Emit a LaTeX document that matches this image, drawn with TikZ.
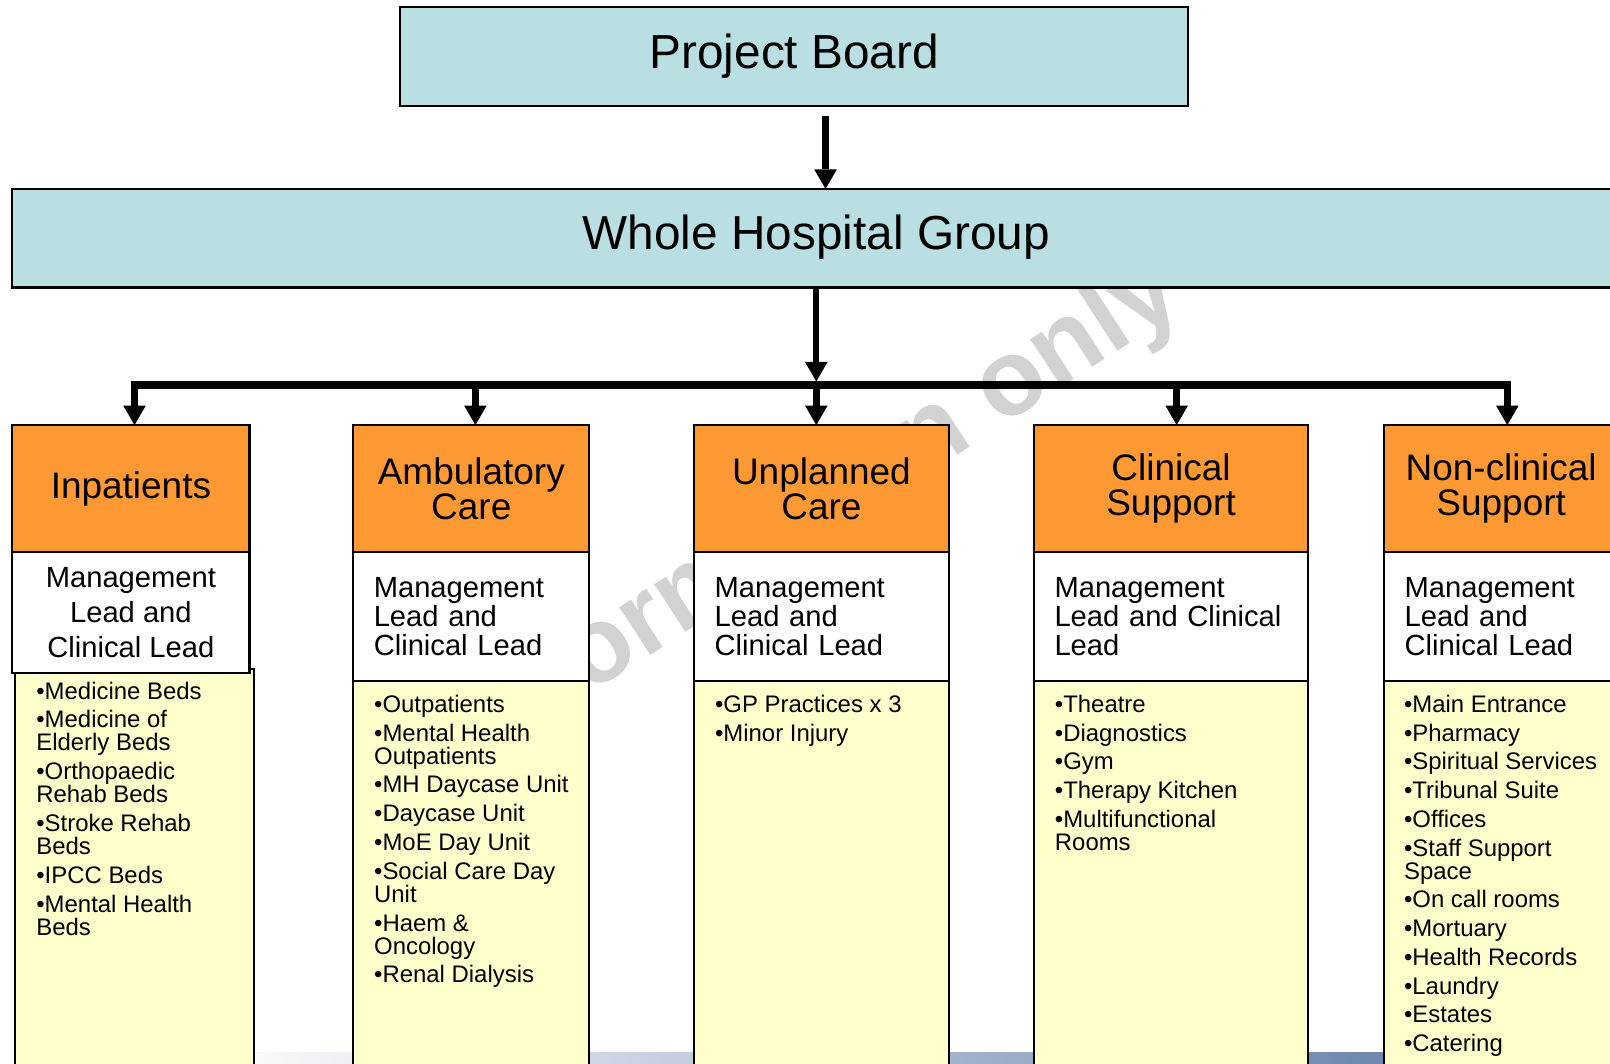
\documentclass[tikz,border=0pt]{standalone}
\usepackage{fontspec}
\setmainfont{Liberation Sans}
\usetikzlibrary{arrows.meta}
\definecolor{boardBlue}{RGB}{186,223,227}
\definecolor{headOrange}{RGB}{255,153,51}
\definecolor{listYellow}{RGB}{255,255,204}
\definecolor{stripBlue}{RGB}{82,112,160}
\definecolor{stampGray}{RGB}{210,210,210}
\newcommand{\px}{*0.5pt}
\newcommand{\lineWidth}{1pt}
\newcommand{\shaftWidth}{3pt}
\newcommand{\busWidth}{3.5pt}
\newcommand{\arrowTip}{{Triangle[length=19\px, width=22\px, line width=0pt]}}
\newcommand{\headHeight}{124\px}
\newcommand{\leadHeight}{125\px}
\newcommand{\listHeight}{420\px}
\newcommand{\itemGap}{2.75pt}
\newcommand{\titleFont}{\fontsize{23.25pt}{28pt}\selectfont}
\newcommand{\headFont}{\fontsize{18pt}{17pt}\selectfont}
\newcommand{\leadFont}{\fontsize{14.2pt}{14pt}\selectfont}
\newcommand{\leadFontWide}{\fontsize{14.2pt}{17pt}\selectfont}
\newcommand{\listFont}{\fontsize{11.65pt}{11.25pt}\selectfont}
\newcommand{\stampFont}{\fontsize{52.5pt}{60pt}\selectfont}
\tikzstyle{panel}=[draw=black, line width=\lineWidth, inner sep=0, outer sep=0, anchor=north west]
\tikzstyle{board}=[panel, fill=boardBlue, minimum height=96\px, font=\titleFont]
\tikzstyle{head}=[panel, fill=headOrange, minimum height=\headHeight, align=center, font=\headFont]
\tikzstyle{lead}=[panel, fill=white, minimum height=\leadHeight, align=left, inner xsep=20\px, font=\leadFont]
\tikzstyle{listbox}=[panel, fill=listYellow, minimum height=\listHeight]
\tikzstyle{list}=[inner sep=0, anchor=north west, align=left, font=\listFont]
\tikzstyle{line}=[draw=black, line width=\shaftWidth]
\tikzstyle{arrow}=[line, -\arrowTip]
\tikzstyle{bus}=[line, line width=\busWidth, line cap=rect]
\tikzstyle{stamp}=[text=stampGray, font=\stampFont\bfseries, rotate=33]

\begin{document}
\begin{tikzpicture}[x=0.5pt, y=-0.5pt]

% Frame
\useasboundingbox (0,0) rectangle (1568,1036);
\clip (0,0) rectangle (1568,1036);

% Watermark and footer strip
\node[stamp] (stamp) at (796,500) {information only};
\shade[left color=white, right color=stripBlue] (195,1025) rectangle (1568,1036);

% Top levels
\node[board, minimum width=767\px] (board) at (390,7) {Project Board};
\node[board, minimum width=1620\px] (group) at (12,184) {};
\node[font=\titleFont] (groupText) at (795,231) {Whole Hospital Group};

% Item lists
\node[listbox, minimum width=232\px] (inpatBox) at (15,652) {};
\node[listbox, minimum width=230\px] (ambuBox) at (344,663) {};
\node[listbox, minimum width=248\px] (unplBox) at (676,663) {};
\node[listbox, minimum width=267\px] (clinBox) at (1007,663) {};
\node[listbox, minimum width=282\px] (nonclinBox) at (1348,663) {};

% Workstreams
\node[head, minimum width=231\px] (inpat) at (12,414) {Inpatients};
\node[lead, minimum width=231\px, minimum height=117\px, align=center, font=\leadFontWide]
  (inpatLead) at (inpat.south west) {Management\\Lead and\\Clinical Lead};
\node[head, minimum width=230\px] (ambu) at (344,414) {Ambulatory\\Care};
\node[lead, text width=95pt] (ambuLead) at (ambu.south west) {Management\\Lead and\\Clinical Lead};
\node[head, minimum width=248\px] (unpl) at (676,414) {Unplanned\\Care};
\node[lead, text width=104pt] (unplLead) at (unpl.south west) {Management\\Lead and\\Clinical Lead};
\node[head, minimum width=267\px] (clin) at (1007,414) {Clinical\\Support};
\node[lead, text width=113.5pt] (clinLead) at (clin.south west) {Management\\Lead and Clinical\\Lead};
\node[head, minimum width=282\px] (nonclin) at (1348,414) {};
\node[align=center, font=\headFont] (nonclinText) at (1462,476) {Non-clinical\\Support};
\node[lead, text width=121pt] (nonclinLead) at (nonclin.south west) {Management\\Lead and\\Clinical Lead};

% List texts
\node[list] (inpatList) at (35,663.5) {%
  •Medicine Beds\\[\itemGap]
  •Medicine of\\Elderly Beds\\[\itemGap]
  •Orthopaedic\\Rehab Beds\\[\itemGap]
  •Stroke Rehab\\Beds\\[\itemGap]
  •IPCC Beds\\[\itemGap]
  •Mental Health\\Beds};
\node[list] (ambuList) at (364,676.5) {%
  •Outpatients\\[\itemGap]
  •Mental Health\\Outpatients\\[\itemGap]
  •MH Daycase Unit\\[\itemGap]
  •Daycase Unit\\[\itemGap]
  •MoE Day Unit\\[\itemGap]
  •Social Care Day\\Unit\\[\itemGap]
  •Haem \&\\Oncology\\[\itemGap]
  •Renal Dialysis};
\node[list] (unplList) at (696,676.5) {%
  •GP Practices x 3\\[\itemGap]
  •Minor Injury};
\node[list] (clinList) at (1027,676.5) {%
  •Theatre\\[\itemGap]
  •Diagnostics\\[\itemGap]
  •Gym\\[\itemGap]
  •Therapy Kitchen\\[\itemGap]
  •Multifunctional\\Rooms};
\node[list] (nonclinList) at (1367,676.5) {%
  •Main Entrance\\[\itemGap]
  •Pharmacy\\[\itemGap]
  •Spiritual Services\\[\itemGap]
  •Tribunal Suite\\[\itemGap]
  •Offices\\[\itemGap]
  •Staff Support\\Space\\[\itemGap]
  •On call rooms\\[\itemGap]
  •Mortuary\\[\itemGap]
  •Health Records\\[\itemGap]
  •Laundry\\[\itemGap]
  •Estates\\[\itemGap]
  •Catering};

% Connectors
\coordinate (boardOut) at (804,113);
\coordinate (busA) at (131,375);
\coordinate (busB) at (463,375);
\coordinate (busC) at (795,375);
\coordinate (busD) at (1146,375);
\coordinate (busE) at (1468,375);
\draw[arrow] (boardOut) -- (boardOut |- group.north);
\draw[arrow, shorten >=1.75pt] (group.south -| busC) -- (busC);
\draw[bus] (busA) -- (busE);
\foreach \b/\c in {busA/inpat, busB/ambu, busC/unpl, busD/clin, busE/nonclin} {
  \draw[arrow, line width=\busWidth] (\b) -- (\b |- \c.north);
  }

\end{tikzpicture}
\end{document}
